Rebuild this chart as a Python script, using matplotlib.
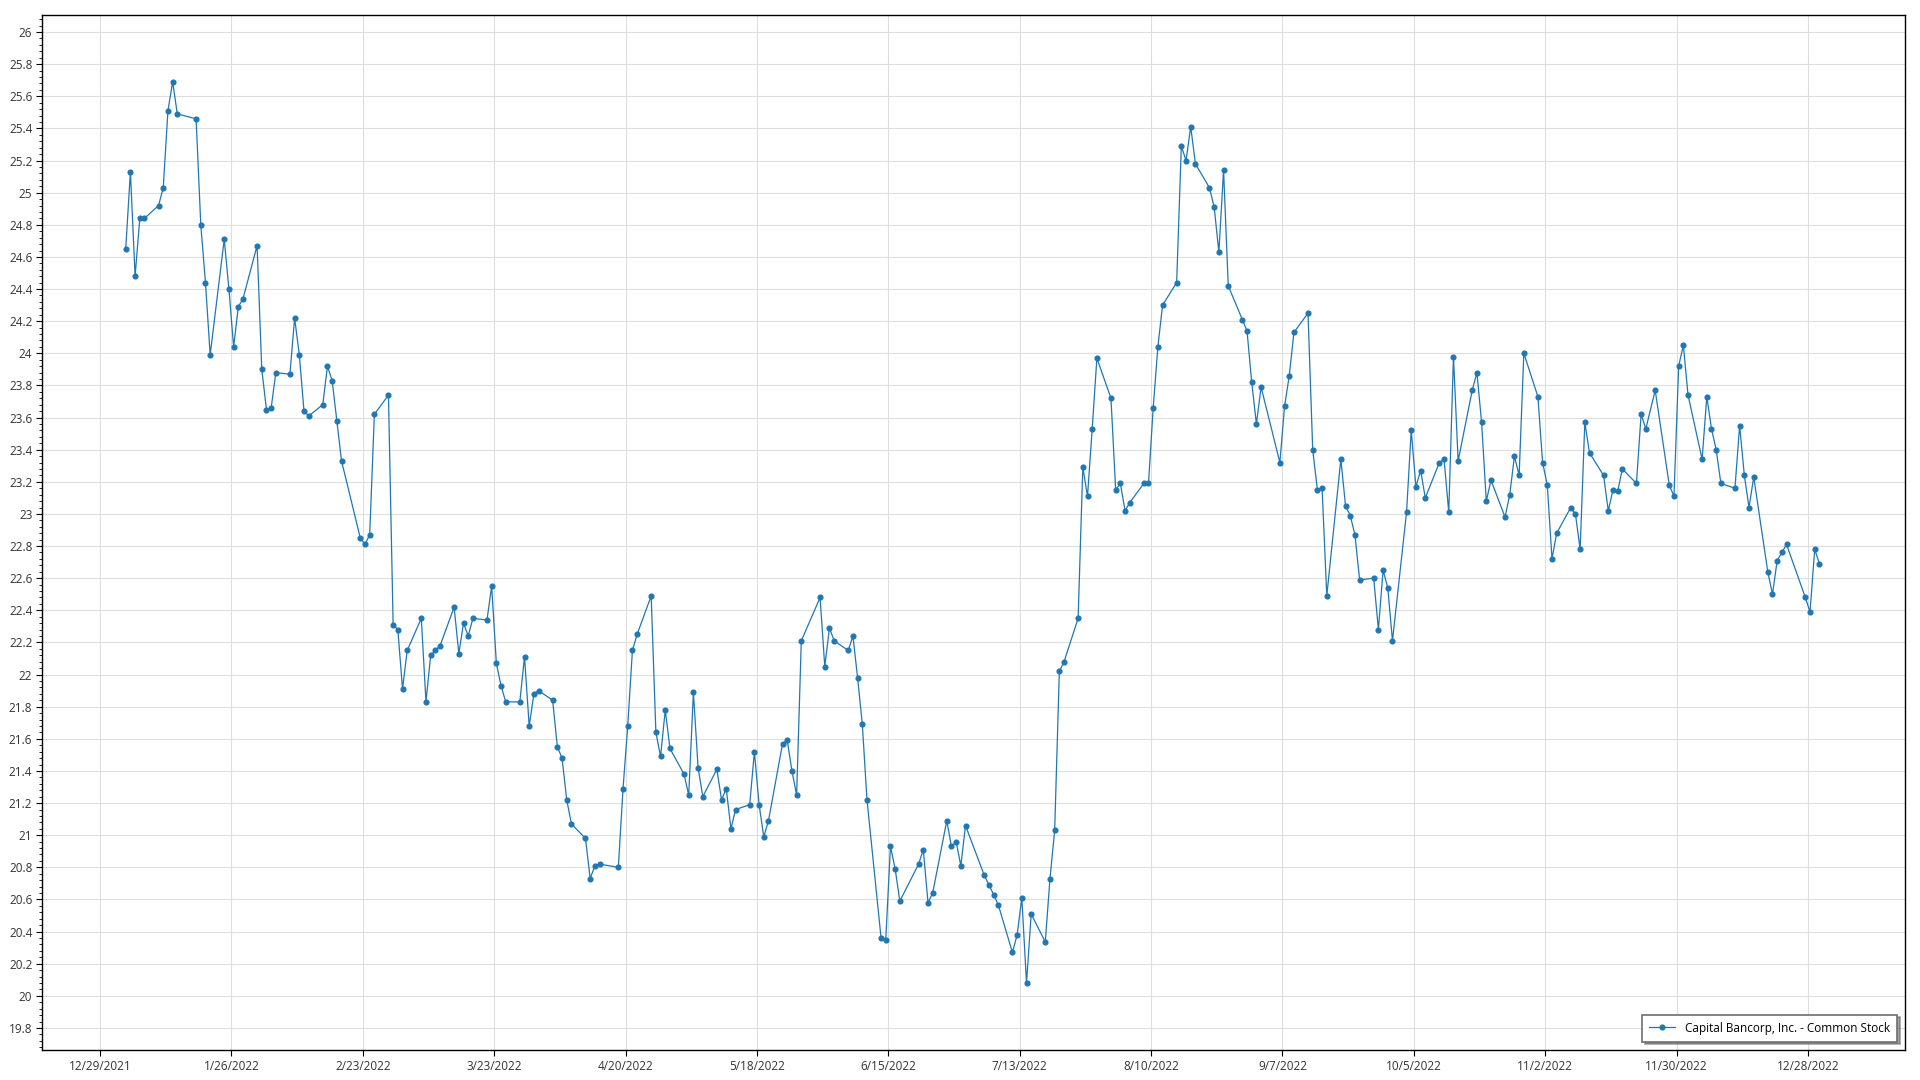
import pandas as pd
import matplotlib
matplotlib.use("Agg")
import matplotlib.pyplot as plt
import matplotlib.dates as mdates
from matplotlib.ticker import MultipleLocator, FuncFormatter

plt.rcParams['font.family'] = ['Open Sans', 'DejaVu Sans']

# closing prices, one list per month of 2022 (trading days)
jan = [24.65, 25.13, 24.48, 24.84, 24.84, 24.92, 25.03, 25.51, 25.69, 25.49,
       25.46, 24.80, 24.44, 23.99, 24.71, 24.40, 24.04, 24.29, 24.34, 24.67]
feb = [23.90, 23.65, 23.66, 23.88, 23.87, 24.22, 23.99, 23.64, 23.61, 23.68,
       23.92, 23.83, 23.58, 23.33, 22.85, 22.81, 22.87, 23.62, 23.74]
mar = [22.31, 22.28, 21.91, 22.15, 22.35, 21.83, 22.12, 22.15, 22.18, 22.42,
       22.13, 22.32, 22.24, 22.35, 22.34, 22.55, 22.07, 21.93, 21.83, 21.83,
       22.11, 21.68, 21.88]
apr = [21.90, 21.84, 21.55, 21.48, 21.22, 21.07, 20.98, 20.73, 20.81, 20.82,
       20.80, 21.29, 21.68, 22.15, 22.25, 22.49, 21.64, 21.49, 21.78, 21.54]
may = [21.38, 21.25, 21.89, 21.42, 21.24, 21.41, 21.22, 21.29, 21.04, 21.16,
       21.19, 21.52, 21.19, 20.99, 21.09, 21.57, 21.59, 21.40, 21.25, 22.21,
       22.48]
jun = [22.05, 22.29, 22.21, 22.15, 22.24, 21.98, 21.69, 21.22, 20.36, 20.35,
       20.93, 20.79, 20.59, 20.82, 20.91, 20.58, 20.64, 21.09, 20.93, 20.96,
       20.81]
jul = [21.06, 20.75, 20.69, 20.63, 20.565, 20.27, 20.38, 20.61, 20.08, 20.51,
       20.335, 20.73, 21.03, 22.02, 22.08, 22.35, 23.29, 23.11, 23.53, 23.97]
aug = [23.72, 23.15, 23.19, 23.02, 23.07, 23.19, 23.19, 23.66, 24.04, 24.30,
       24.44, 25.29, 25.20, 25.41, 25.18, 25.03, 24.91, 24.63, 25.14, 24.42,
       24.21, 24.14, 23.82]
sep = [23.56, 23.79, 23.32, 23.67, 23.86, 24.13, 24.25, 23.40, 23.15, 23.16,
       22.49, 23.34, 23.05, 22.99, 22.87, 22.59, 22.60, 22.28, 22.65, 22.54,
       22.21]
oct_ = [23.01, 23.52, 23.17, 23.27, 23.10, 23.32, 23.34, 23.01, 23.98, 23.33,
        23.77, 23.88, 23.57, 23.08, 23.21, 22.98, 23.12, 23.36, 23.24, 24.00,
        23.73]
nov = [23.32, 23.18, 22.72, 22.88, 23.04, 23.00, 22.78, 23.57, 23.38, 23.24,
       23.02, 23.15, 23.14, 23.28, 23.19, 23.62, 23.53, 23.77, 23.18, 23.11,
       23.92]
dec = [24.05, 23.74, 23.34, 23.73, 23.53, 23.40, 23.19, 23.16, 23.55, 23.24,
       23.04, 23.23, 22.64, 22.50, 22.71, 22.76, 22.81, 22.48, 22.39, 22.78,
       22.69]

holidays = ['2022-01-17', '2022-02-21', '2022-04-15', '2022-05-30',
            '2022-06-20', '2022-07-04', '2022-09-05', '2022-11-24',
            '2022-12-26']
series_name = "Capital Bancorp, Inc. - Common Stock"

prices = jan + feb + mar + apr + may + jun + jul + aug + sep + oct_ + nov + dec
# points sit a bit after midnight of each trading day in the original
dates = pd.bdate_range('2022-01-03', '2022-12-30', freq='C',
                       holidays=holidays) + pd.Timedelta(hours=11)

fig = plt.figure(figsize=(19.2, 10.8), dpi=100)
ax = fig.add_axes([0.0219, 0.0278, 0.9703, 0.9583])

ax.plot(dates, prices, color='#1f77b4', linewidth=0.9, marker='o',
        markersize=3.4, label=series_name)

# axes ranges
ax.set_xlim(mdates.date2num(pd.Timestamp('2021-12-16 15:00')),
            mdates.date2num(pd.Timestamp('2023-01-17 17:00')))
ax.set_ylim(19.663, 26.106)

xticks = pd.date_range('2021-12-29', periods=14, freq='28D')
ax.set_xticks(xticks)
ax.set_xticklabels([f"{d.month}/{d.day}/{d.year}" for d in xticks])
ax.yaxis.set_major_locator(MultipleLocator(0.2))
ax.yaxis.set_minor_locator(MultipleLocator(0.04))
ax.yaxis.set_major_formatter(FuncFormatter(lambda v, p: f"{round(v, 2):g}"))

ax.grid(True, color='#dedede', linewidth=0.8)
ax.set_axisbelow(True)
for s in ax.spines.values():
    s.set_color('black')
    s.set_linewidth(1.0)

ax.tick_params(axis='both', which='major', labelsize=8.5, labelcolor='#333333',
               length=4, width=0.8, pad=3)
ax.tick_params(axis='y', which='minor', length=2.5, width=0.6)

leg = ax.legend(loc='lower right', fontsize=8.5, frameon=True, fancybox=False,
                shadow=True, edgecolor='#6e6e6e', borderaxespad=0.7,
                handlelength=2.2, borderpad=0.6)
leg.get_frame().set_linewidth(1.2)

fig.savefig('out.png', dpi=100)
